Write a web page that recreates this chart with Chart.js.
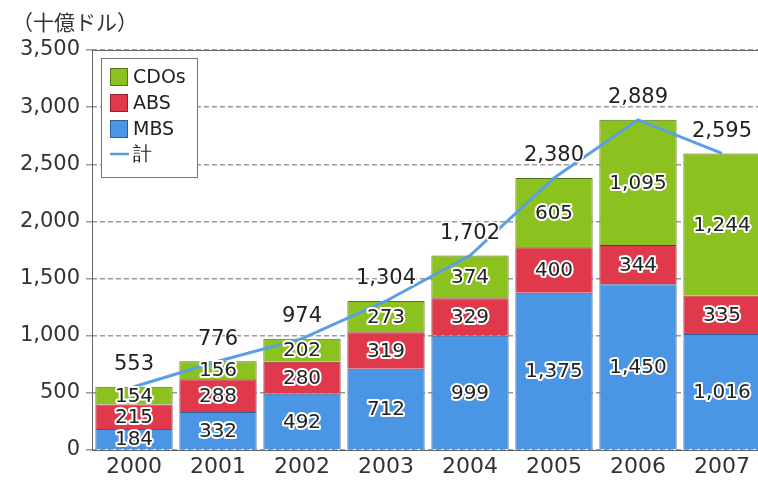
<!DOCTYPE html>
<html>
<head>
<meta charset="utf-8">
<script src="https://cdn.jsdelivr.net/npm/chart.js@4"></script>
<style>
html,body{margin:0;padding:0;background:#fff;overflow:hidden;width:758px;height:480px;}
#wrap{width:770px;height:480px;}
</style>
</head>
<body>
<div id="wrap"><canvas id="c" width="770" height="480"></canvas></div>
<script>
const categories = ['2000','2001','2002','2003','2004','2005','2006','2007'];
const mbs   = [184, 332, 492, 712, 999, 1375, 1450, 1016];
const abs   = [215, 288, 280, 319, 329, 400, 344, 335];
const cdos  = [154, 156, 202, 273, 374, 605, 1095, 1244];
const total = [553, 776, 974, 1304, 1702, 2380, 2889, 2595];
const yTicks = [0, 500, 1000, 1500, 2000, 2500, 3000, 3500];
const unitLabel = '（十億ドル）';

const fmt = v => v.toLocaleString('en-US');
const FONT = 'DejaVu Sans';

const framePlugin = {
  id: 'frame',
  beforeDatasetsDraw(chart) {
    const a = chart.chartArea, ctx = chart.ctx;
    ctx.save();
    ctx.strokeStyle = '#666';
    ctx.lineWidth = 1;
    ctx.setLineDash([]);
    ctx.strokeRect(a.left + 0.5, a.top + 0.5, a.right - a.left, a.bottom - a.top);
    ctx.restore();
  }
};

function haloText(ctx, txt, x, y, w) {
  ctx.lineWidth = w;
  ctx.strokeStyle = '#fff';
  ctx.lineJoin = 'round';
  ctx.strokeText(txt, x, y);
  ctx.fillStyle = '#222';
  ctx.fillText(txt, x, y);
}

const labelPlugin = {
  id: 'labels',
  afterDatasetsDraw(chart) {
    const ctx = chart.ctx;
    ctx.save();
    ctx.textAlign = 'center';
    ctx.textBaseline = 'middle';
    chart.data.datasets.forEach((ds, i) => {
      const meta = chart.getDatasetMeta(i);
      meta.data.forEach((el, j) => {
        const v = ds.data[j];
        if (ds.type === 'line') {
          ctx.font = '21px "' + FONT + '"';
          haloText(ctx, fmt(v), el.x, el.y - 22, 3);
        } else {
          const p = el.getProps(['x', 'y', 'base'], true);
          ctx.font = '20px "' + FONT + '"';
          haloText(ctx, fmt(v), p.x, (p.y + p.base) / 2 + 1, 4);
        }
      });
    });
    ctx.restore();
  }
};

const legendPlugin = {
  id: 'boxLegend',
  afterDraw(chart) {
    const ctx = chart.ctx;
    const ds = chart.data.datasets;
    const order = [2, 1, 0, 3];
    ctx.save();
    ctx.fillStyle = '#fff';
    ctx.fillRect(101, 58, 96, 119);
    ctx.strokeStyle = '#777';
    ctx.lineWidth = 1;
    ctx.strokeRect(101.5, 58.5, 96, 119);
    const ys = [77, 103, 129, 154];
    ctx.font = '19px "' + FONT + '"';
    ctx.textBaseline = 'middle';
    ctx.textAlign = 'left';
    order.forEach((k, n) => {
      const d = ds[k];
      const y = ys[n];
      if (d.type === 'line') {
        ctx.strokeStyle = d.borderColor;
        ctx.lineWidth = 2.5;
        ctx.beginPath();
        ctx.moveTo(110, y);
        ctx.lineTo(129, y);
        ctx.stroke();
      } else {
        ctx.fillStyle = d.backgroundColor;
        ctx.fillRect(110, y - 9, 18, 18);
        ctx.strokeStyle = d.borderColor;
        ctx.lineWidth = 1;
        ctx.strokeRect(110.5, y - 8.5, 17, 17);
      }
      ctx.fillStyle = '#222';
      ctx.fillText(d.label, 133, y + 1);
    });
    ctx.font = '21px "Noto Sans CJK JP"';
    ctx.fillStyle = '#333';
    ctx.fillText(unitLabel, 12, 22);
    ctx.restore();
  }
};

Chart.defaults.font.family = FONT;
Chart.defaults.color = '#333';

new Chart(document.getElementById('c'), {
  data: {
    labels: categories,
    datasets: [
      { type: 'bar', label: 'MBS', data: mbs, backgroundColor: '#4a95e4', borderColor: '#2e5f99', borderWidth: 1, stack: 'bars', order: 1 },
      { type: 'bar', label: 'ABS', data: abs, backgroundColor: '#e0394c', borderColor: '#8e2433', borderWidth: 1, stack: 'bars', order: 1 },
      { type: 'bar', label: 'CDOs', data: cdos, backgroundColor: '#8cc220', borderColor: '#57751a', borderWidth: 1, stack: 'bars', order: 1 },
      { type: 'line', label: '計', data: total, borderColor: '#5a9fe3', borderWidth: 3, pointRadius: 0, tension: 0, fill: false, stack: 'total', order: 0 }
    ]
  },
  options: {
    responsive: false,
    animation: false,
    devicePixelRatio: 1,
    layout: { padding: { left: 0, right: 6, top: 50, bottom: 0 } },
    plugins: { legend: { display: false }, tooltip: { enabled: false } },
    datasets: { bar: { barPercentage: 0.92, categoryPercentage: 1.0 } },
    scales: {
      x: {
        stacked: true,
        grid: { display: false, drawTicks: false },
        border: { display: false },
        ticks: { font: { size: 22 }, color: '#333', padding: 4, maxRotation: 0 },
        afterFit(s) { s.height = 30; }
      },
      y: {
        stacked: true,
        min: 0,
        max: 3500,
        afterBuildTicks(s) { s.ticks = yTicks.map(v => ({ value: v })); },
        grid: { color: '#9a9a9a', lineWidth: 1.5, drawTicks: true, tickLength: 6 },
        border: { display: false, dash: [5, 3] },
        ticks: { font: { size: 21 }, color: '#333', padding: 6, callback: v => fmt(v) },
        afterFit(s) { s.width = 92; }
      }
    }
  },
  plugins: [framePlugin, labelPlugin, legendPlugin]
});
</script>
</body>
</html>
